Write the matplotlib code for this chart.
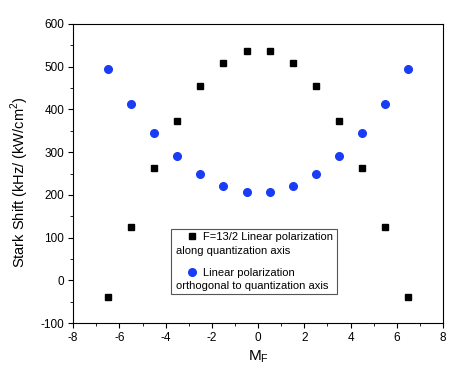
import matplotlib
matplotlib.use('Agg')
import matplotlib.pyplot as plt
from matplotlib.patches import Rectangle
from matplotlib.ticker import MultipleLocator

plt.rcParams['font.family'] = ['Liberation Sans', 'DejaVu Sans']
plt.rcParams['axes.unicode_minus'] = False

mf = [-6.5, -5.5, -4.5, -3.5, -2.5, -1.5, -0.5, 0.5, 1.5, 2.5, 3.5, 4.5, 5.5, 6.5]
shift_along = [-40, 125, 262, 372, 455, 509, 536, 536, 509, 455, 372, 262, 125, -40]
shift_orth = [495, 413, 344, 290, 248, 221, 207, 207, 221, 248, 290, 344, 413, 495]

fig = plt.figure(figsize=(4.63, 3.86), dpi=100)
ax = fig.add_axes([0.158, 0.163, 0.799, 0.775])

ax.plot(mf, shift_along, 's', color='black', markersize=5,
        label='F=13/2 Linear polarization')
ax.plot(mf, shift_orth, 'o', color='#1a3cf5', markersize=5.5,
        label='Linear polarization')

ax.set_xlim(-8, 8)
ax.set_ylim(-100, 600)
ax.xaxis.set_major_locator(MultipleLocator(2))
ax.xaxis.set_minor_locator(MultipleLocator(1))
ax.yaxis.set_major_locator(MultipleLocator(100))
ax.yaxis.set_minor_locator(MultipleLocator(50))
ax.tick_params(which='both', direction='out', labelsize=8.5, pad=2.5)
ax.tick_params(which='major', length=3.8)
ax.tick_params(which='minor', length=2.2)
ax.set_xlabel('M$_\\mathregular{F}$', fontsize=11, labelpad=3)
ax.set_ylabel('Stark Shift (kHz/ (kW/cm$^\\mathregular{2}$)', fontsize=10.5)
ax.yaxis.set_label_coords(-0.115, 0.47)

fs = 8
leg = ax.legend(loc='upper left', bbox_to_anchor=(0.306, 0.304), fontsize=fs,
                frameon=False, borderpad=0.0, handletextpad=0.5, labelspacing=2.3,
                handlelength=1.0, borderaxespad=0)

# second lines of the legend entries start at the left edge of the box
fig.canvas.draw()
renderer = fig.canvas.get_renderer()
leg_bb = leg.get_window_extent(renderer)
extra_x = leg_bb.x0 - 10
inv = ax.transAxes.inverted()
boxes = [leg_bb]
for t, extra in zip(leg.get_texts(), ['along quantization axis', 'orthogonal to quantization axis']):
    bb = t.get_window_extent(renderer)
    x0, y0 = inv.transform((extra_x, (bb.y0 + bb.y1) / 2 - 13.5))
    et = ax.text(x0, y0, extra, transform=ax.transAxes, fontsize=fs,
                 va='center', ha='left', zorder=6)
    boxes.append(et.get_window_extent(renderer))

# frame round the whole legend block
bx0 = min(b.x0 for b in boxes) - 5
bx1 = max(b.x1 for b in boxes) + 4
by0 = min(b.y0 for b in boxes) - 3
by1 = max(b.y1 for b in boxes) + 3
(ax0, ay0), (ax1, ay1) = inv.transform([(bx0, by0), (bx1, by1)])
ax.add_patch(Rectangle((ax0, ay0), ax1 - ax0, ay1 - ay0, transform=ax.transAxes,
                       facecolor='white', edgecolor='#555555', linewidth=0.8,
                       zorder=4, clip_on=False))

fig.savefig('out.png', dpi=100)
